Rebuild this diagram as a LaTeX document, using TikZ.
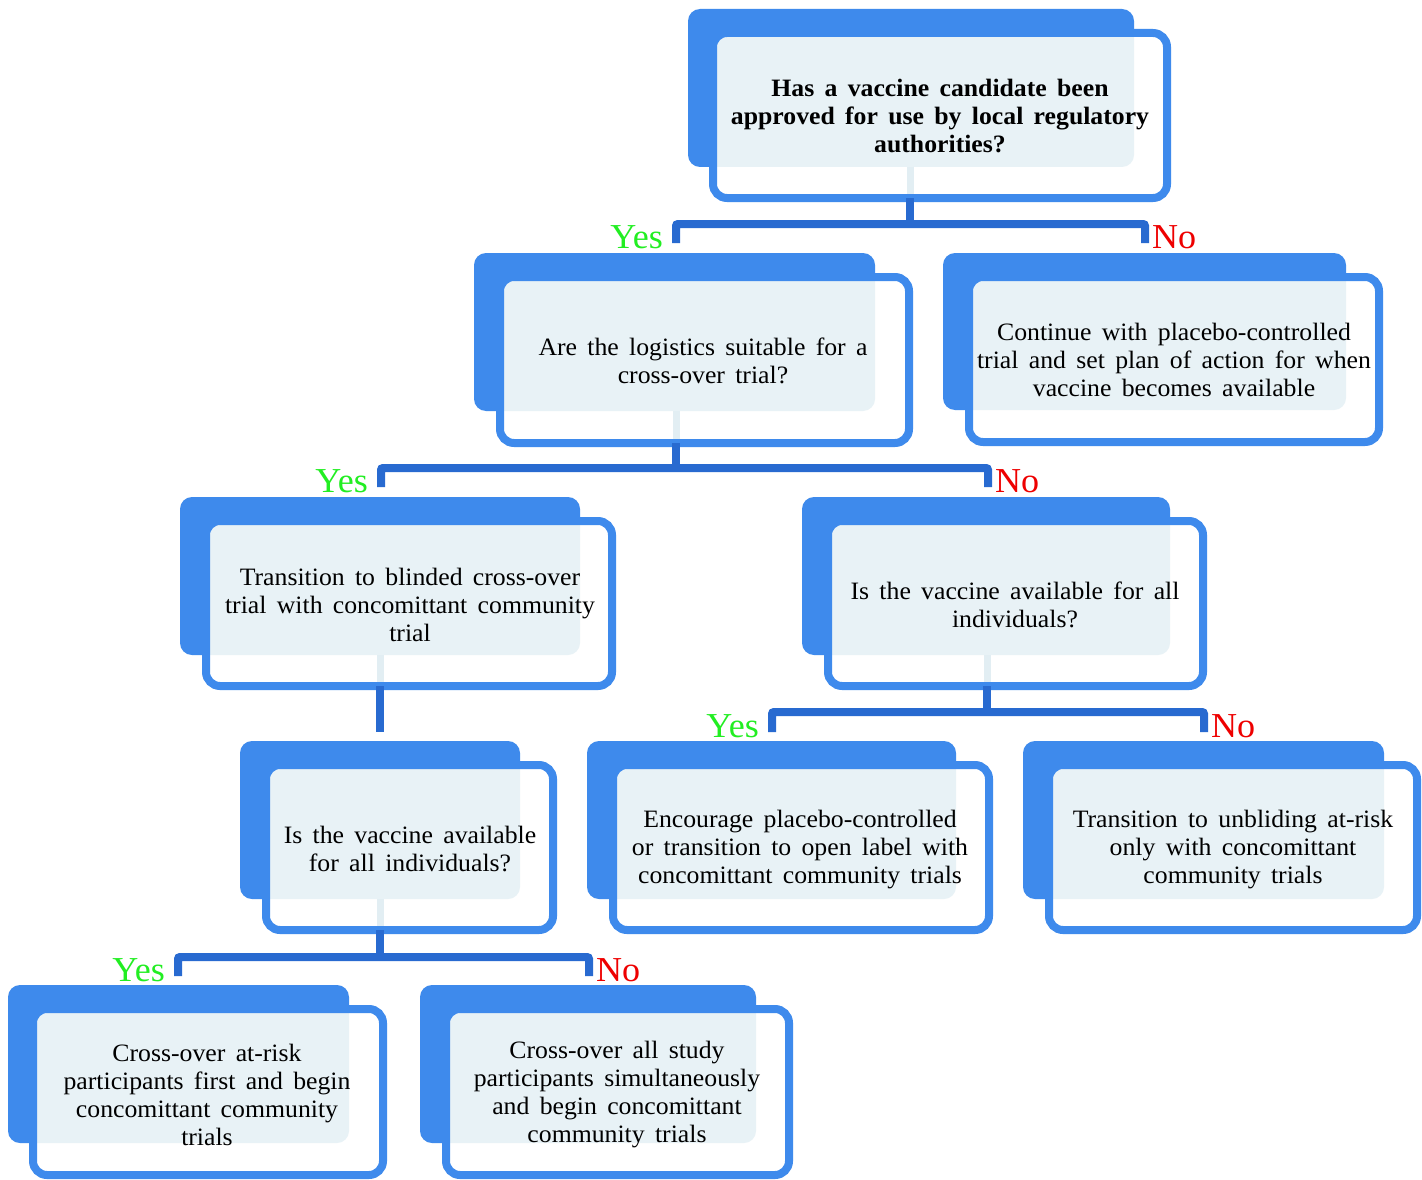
\documentclass[tikz,border=0pt]{standalone}
\usepackage{fontspec}
\setmainfont{Liberation Serif}[WordSpace={1.6}, FakeStretch=1.03]
\definecolor{backblue}{RGB}{62,138,236}
\definecolor{lightfill}{RGB}{232,242,246}
\definecolor{stubcol}{RGB}{226,238,243}
\definecolor{connblue}{RGB}{40,106,208}
\definecolor{yesgreen}{RGB}{34,238,34}
\definecolor{nored}{RGB}{238,0,0}
\tikzset{
  backbox/.style={fill=backblue,rounded corners=12pt},
  frontline/.style={draw=backblue,line width=8pt,rounded corners=14pt},
  lightbox/.style={fill=lightfill,rounded corners=12pt},
  txt/.style={align=center,font=\fontsize{25}{28}\selectfont,inner sep=0pt,yshift=-2pt},
  conn/.style={draw=connblue,line width=8pt,rounded corners=2pt},
  stubline/.style={draw=stubcol,line width=7pt},
  yeslbl/.style={text=yesgreen,font=\fontsize{35}{35}\selectfont,inner sep=0pt,anchor=base east},
  nolbl/.style={text=nored,font=\fontsize{35}{35}\selectfont,inner sep=0pt,anchor=base west}
}
% #1 name, #2 back TL, #3 back BR, #4 front TL, #5 front BR, #6 text centre, #7 text, #8 extra font
\newcommand{\flowbox}[8]{%
  \fill[backbox] (#2) rectangle (#3);
  \fill[white,rounded corners=14pt] (#4) rectangle (#5);
  \begin{scope}
    \clip[rounded corners=14pt] (#4) rectangle (#5);
    \fill[lightbox] (#2) rectangle (#3);
  \end{scope}
  \draw[frontline] (#4) rectangle (#5);
  \node[txt,#8] (#1) at (#6) {#7};
}
\begin{document}
\begin{tikzpicture}[x=1pt,y=-1pt]
\useasboundingbox[fill=white] (0,0) rectangle (1422,1180);

% ---- boxes
\flowbox{b1}{688,9}{1134,167}{713,33}{1167,198}{940,114}{Has a vaccine candidate been\\approved for use by local regulatory\\authorities?}{font=\fontsize{25}{28}\selectfont\bfseries}
\flowbox{b2}{474,253}{875,411}{500,277}{909,443}{703,359}{Are the logistics suitable for a\\cross-over trial?}{}
\flowbox{b3}{943,253}{1346,410}{969,277}{1379,442}{1174,358}{Continue with placebo-controlled\\trial and set plan of action for when\\vaccine becomes available}{}
\flowbox{b4}{180,497}{580,655}{206,521}{612,686}{410,603}{Transition to blinded cross-over\\trial with concomittant community\\trial}{}
\flowbox{b5}{802,497}{1170,655}{828,521}{1203,686}{1015,603}{Is the vaccine available for all\\individuals?}{}
\flowbox{b6}{240,741}{520,899}{266,765}{553,930}{410,847}{Is the vaccine available\\for all individuals?}{}
\flowbox{b7}{587,741}{956,899}{613,765}{989,930}{800,848}{Encourage placebo-controlled\\or transition to open label with\\concomittant community trials}{}
\flowbox{b8}{1023,741}{1384,899}{1049,765}{1417,930}{1233,848}{Transition to unbliding at-risk\\only with concomittant\\community trials}{}
\flowbox{b9}{8,985}{349,1143}{33,1009}{383,1175}{207,1093}{Cross-over at-risk\\participants first and begin\\concomittant community\\trials}{}
\flowbox{b10}{420,985}{756,1143}{446,1009}{789,1175}{617,1093}{Cross-over all study\\participants simultaneously\\and begin concomittant\\community trials}{}

% ---- connector coordinates
\coordinate (s1t) at (910,167); \coordinate (s1b) at (910,194); \coordinate (c1o) at (910,198);
\coordinate (c1m) at (910,224); \coordinate (c1y) at (676,243); \coordinate (c1n) at (1145,243);

\coordinate (s2t) at (676,411); \coordinate (s2b) at (676,439); \coordinate (c2o) at (676,443);
\coordinate (c2m) at (676,468); \coordinate (c2y) at (381,487); \coordinate (c2n) at (988,487);

\coordinate (s4t) at (380,655); \coordinate (s4b) at (380,682); \coordinate (c4o) at (380,686);
\coordinate (c4e) at (380,732);

\coordinate (s5t) at (987,655); \coordinate (s5b) at (987,682); \coordinate (c5o) at (987,686);
\coordinate (c5m) at (987,712); \coordinate (c5y) at (772,732); \coordinate (c5n) at (1204,732);

\coordinate (s6t) at (380,899); \coordinate (s6b) at (380,926); \coordinate (c6o) at (380,930);
\coordinate (c6m) at (380,957); \coordinate (c6y) at (178,976); \coordinate (c6n) at (589,976);

% ---- stubs inside boxes
\draw[stubline] (s1t) -- (s1b);
\draw[stubline] (s2t) -- (s2b);
\draw[stubline] (s4t) -- (s4b);
\draw[stubline] (s5t) -- (s5b);
\draw[stubline] (s6t) -- (s6b);

% ---- connectors
\draw[conn] (c1o) -- (c1m);
\draw[conn] (c1y) |- (c1m) -| (c1n);
\draw[conn] (c2o) -- (c2m);
\draw[conn] (c2y) |- (c2m) -| (c2n);
\draw[conn] (c4o) -- (c4e);
\draw[conn] (c5o) -- (c5m);
\draw[conn] (c5y) |- (c5m) -| (c5n);
\draw[conn] (c6o) -- (c6m);
\draw[conn] (c6y) |- (c6m) -| (c6n);

% ---- labels
\node[yeslbl] (y1) at ([xshift=-13pt,yshift=-5pt]c1y) {Yes};
\node[nolbl]  (n1) at ([xshift=7pt,yshift=-5pt]c1n) {No};
\node[yeslbl] (y2) at ([xshift=-13pt,yshift=-5pt]c2y) {Yes};
\node[nolbl]  (n2) at ([xshift=7pt,yshift=-5pt]c2n) {No};
\node[yeslbl] (y5) at ([xshift=-13pt,yshift=-5pt]c5y) {Yes};
\node[nolbl]  (n5) at ([xshift=7pt,yshift=-5pt]c5n) {No};
\node[yeslbl] (y6) at ([xshift=-13pt,yshift=-5pt]c6y) {Yes};
\node[nolbl]  (n6) at ([xshift=7pt,yshift=-5pt]c6n) {No};
\end{tikzpicture}
\end{document}
